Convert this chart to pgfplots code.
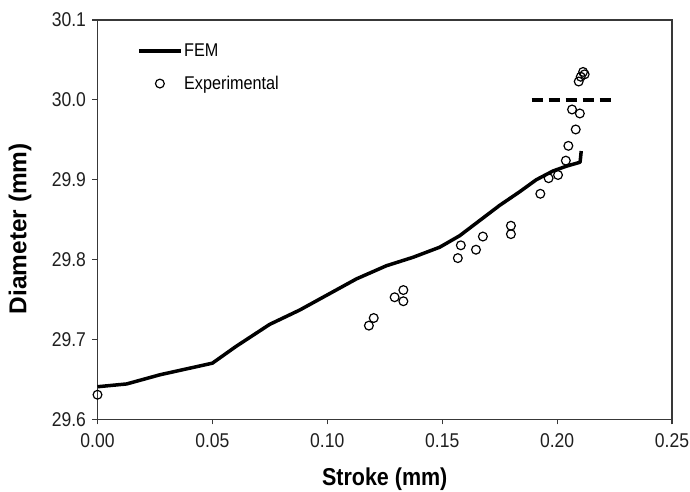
\documentclass[border=0pt]{standalone}
\usepackage{fontspec}
\setmainfont{Liberation Sans}[FakeStretch=0.88]
\newfontfamily\ylabfont{Liberation Sans}
\usepackage{pgfplots}
\pgfplotsset{compat=1.18}
\usepackage{pgfplotstable}
\pgfplotsset{
  femlegend/.style={legend image code/.code={\draw[##1] (0bp,0bp) -- (42bp,0bp);}},
  explegend/.style={legend image code/.code={\draw[##1] plot coordinates {(21bp,0bp)};}},
}
\pgfplotstableread{
x y
0.000 29.641
0.0127 29.6445
0.0272 29.656
0.050 29.6705
0.0603 29.6915
0.0749 29.719
0.088 29.737
0.1127 29.776
0.1257 29.7924
0.1373 29.803
0.1489 29.8156
0.1576 29.830
0.1663 29.849
0.1750 29.868
0.1837 29.885
0.1909 29.900
0.1982 29.911
0.2040 29.917
0.2100 29.922
0.2105 29.936
}\fem
\pgfplotstableread{
x y
0.000 29.631
0.1181 29.7175
0.1202 29.727
0.1293 29.753
0.1331 29.762
0.1331 29.748
0.1568 29.802
0.1581 29.818
0.1647 29.8125
0.1677 29.829
0.1799 29.8425
0.1799 29.832
0.1927 29.8825
0.1963 29.902
0.2004 29.906
0.2038 29.924
0.2049 29.9425
0.2081 29.963
0.2065 29.988
0.2099 29.983
0.2094 30.023
0.2103 30.029
0.2113 30.035
0.2120 30.032
}\expdata
\pgfplotstableread{
x y
0.1889 30.0
0.2236 30.0
}\dashline
\begin{document}
\begin{tikzpicture}
\useasboundingbox (-97.5bp,-72.5bp) rectangle (592.5bp,419.5bp);
\begin{axis}[
  at={(0,0)}, anchor=south west,
  scale only axis, width=574.5bp, height=399.5bp,
  xmin=0, xmax=0.25, ymin=29.6, ymax=30.1,
  xtick={0,0.05,0.10,0.15,0.20,0.25},
  ytick={29.6,29.7,29.8,29.9,30.0,30.1},
  tick align=outside, xtick pos=bottom, ytick pos=left,
  major tick length=5bp,
  axis line style={draw=black!78, line width=1.3bp},
  every tick/.style={draw=black!78, line width=1.2bp},
  tick label style={font=\fontsize{20}{20}\selectfont, text=black!88},
  /pgf/number format/assume math mode=true,
  xticklabel style={yshift=-6bp, /pgf/number format/.cd, fixed, fixed zerofill, precision=2, 1000 sep={}},
  yticklabel style={xshift=-3bp, /pgf/number format/.cd, fixed, fixed zerofill, precision=1, 1000 sep={}},
  xlabel={\textbf{Stroke (mm)}},
  ylabel={\ylabfont\bfseries Diameter (mm)},
  label style={font=\fontsize{24.5}{24.5}\selectfont},
  xlabel style={at={(axis description cs:0.5,0)}, anchor=base, yshift=-66bp},
  ylabel style={at={(axis description cs:-0.1349,0.4775)}, anchor=center},
  legend style={at={(axis description cs:0.069,0.945)}, anchor=north west,
    draw=none, fill=none, inner sep=0pt, outer sep=0pt,
    font=\fontsize{18.5}{18.5}\selectfont, row sep=14bp,
    nodes={inner xsep=1.5bp, inner ysep=2bp}},
  legend cell align=left,
]
\addplot[black, line width=3.5bp, line join=round, femlegend] table[x=x,y=y] {\fem};
\addlegendentry{FEM}
\addplot[only marks, mark=o, mark size=4.4bp, black, mark options={line width=1.2bp}, explegend] table[x=x,y=y] {\expdata};
\addlegendentry{Experimental}
\addplot[black, line width=3.8bp, dash pattern=on 11bp off 6bp, forget plot] table[x=x,y=y] {\dashline};
\end{axis}
\end{tikzpicture}
\end{document}
